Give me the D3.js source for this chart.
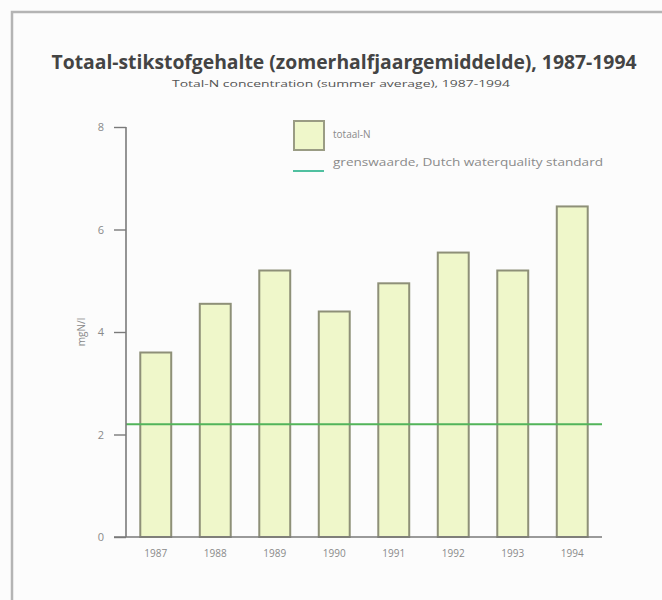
<!DOCTYPE html>
<html><head><meta charset="utf-8">
<script src="https://cdn.jsdelivr.net/npm/d3@7"></script>
<style>body{margin:0;background:#fcfcfc;}svg{display:block;}</style>
</head><body>
<svg id="c" width="662" height="600"></svg>
<script>
const years = ["1987","1988","1989","1990","1991","1992","1993","1994"];
const totalN = [3.6, 4.55, 5.2, 4.4, 4.95, 5.55, 5.2, 6.45];
const standard = 2.2;
const yTicks = [0, 2, 4, 6, 8];
const title = "Totaal-stikstofgehalte (zomerhalfjaargemiddelde), 1987-1994";
const subtitle = "Total-N concentration (summer average), 1987-1994";
const yLabel = "mgN/l";
const legendLabels = ["totaal-N", "grenswaarde, Dutch waterquality standard"];

const svg = d3.select("#c");
const font = "'Open Sans', 'Noto Sans', sans-serif";
const grey = "#8a8a8a";

// frame
svg.append("path").attr("d", "M12,600 L12,12 L662,12")
  .attr("fill", "none").attr("stroke", "#b4b4b4").attr("stroke-width", 2.5);

svg.append("text").attr("x", 344).attr("y", 69).attr("text-anchor", "middle")
  .attr("font-family", font).attr("font-weight", "bold").attr("font-size", 19)
  .attr("fill", "#444").attr("textLength", 585).attr("lengthAdjust", "spacingAndGlyphs").text(title);
svg.append("text").attr("x", 341).attr("y", 87).attr("text-anchor", "middle")
  .attr("font-family", font).attr("font-size", 9.5)
  .attr("fill", "#555").attr("textLength", 338).attr("lengthAdjust", "spacingAndGlyphs").text(subtitle);

const x = d3.scaleBand().domain(years).range([126, 602]).paddingInner(0.48).paddingOuter(0.24);
const y = d3.scaleLinear().domain([0, 8]).range([537, 127]);

// bars
svg.append("g").selectAll("rect").data(years).join("rect")
  .attr("x", d => x(d)).attr("width", x.bandwidth())
  .attr("y", (d, i) => y(totalN[i])).attr("height", (d, i) => y(0) - y(totalN[i]))
  .attr("fill", "#eff7ca").attr("stroke", "#8e9078").attr("stroke-width", 2);

// standard line
svg.append("line").attr("x1", 126).attr("x2", 602).attr("y1", y(standard)).attr("y2", y(standard))
  .attr("stroke", "#52b45a").attr("stroke-width", 2);

// y axis
const yAxis = svg.append("g").attr("transform", "translate(126,0)")
  .call(d3.axisLeft(y).tickValues(yTicks).tickSize(12).tickPadding(10).tickFormat(d3.format("d")));
yAxis.select(".domain").attr("stroke", "#7a7a7a").attr("stroke-width", 1.6).attr("d", `M0,${y(8)}V${y(0)}`);
yAxis.selectAll(".tick line").attr("stroke", "#7a7a7a").attr("stroke-width", 1.4);
yAxis.selectAll(".tick text").attr("fill", grey).attr("font-family", font).attr("font-size", 11);

// x axis
const xAxis = svg.append("g").attr("transform", `translate(0,${y(0)})`)
  .call(d3.axisBottom(x).tickSize(0).tickPadding(13));
xAxis.select(".domain").attr("stroke", "#7a7a7a").attr("stroke-width", 1.6).attr("d", "M114,0H602");
xAxis.selectAll(".tick text").attr("fill", grey).attr("font-family", font).attr("font-size", 10);

svg.append("text").attr("transform", "translate(85,332) rotate(-90)").attr("text-anchor", "middle")
  .attr("font-family", font).attr("font-size", 10).attr("fill", grey).text(yLabel);

// legend
svg.append("rect").attr("x", 294).attr("y", 121).attr("width", 30).attr("height", 29)
  .attr("fill", "#eff7ca").attr("stroke", "#9a9c84").attr("stroke-width", 2);
svg.append("line").attr("x1", 293).attr("x2", 324).attr("y1", 171).attr("y2", 171)
  .attr("stroke", "#50c0a0").attr("stroke-width", 2);
svg.append("text").attr("x", 333).attr("y", 138).attr("font-family", font).attr("font-size", 10)
  .attr("fill", grey).text(legendLabels[0]);
svg.append("text").attr("x", 333).attr("y", 166).attr("font-family", font).attr("font-size", 10)
  .attr("fill", grey).attr("textLength", 270).attr("lengthAdjust", "spacingAndGlyphs").text(legendLabels[1]);
</script>
</body></html>
